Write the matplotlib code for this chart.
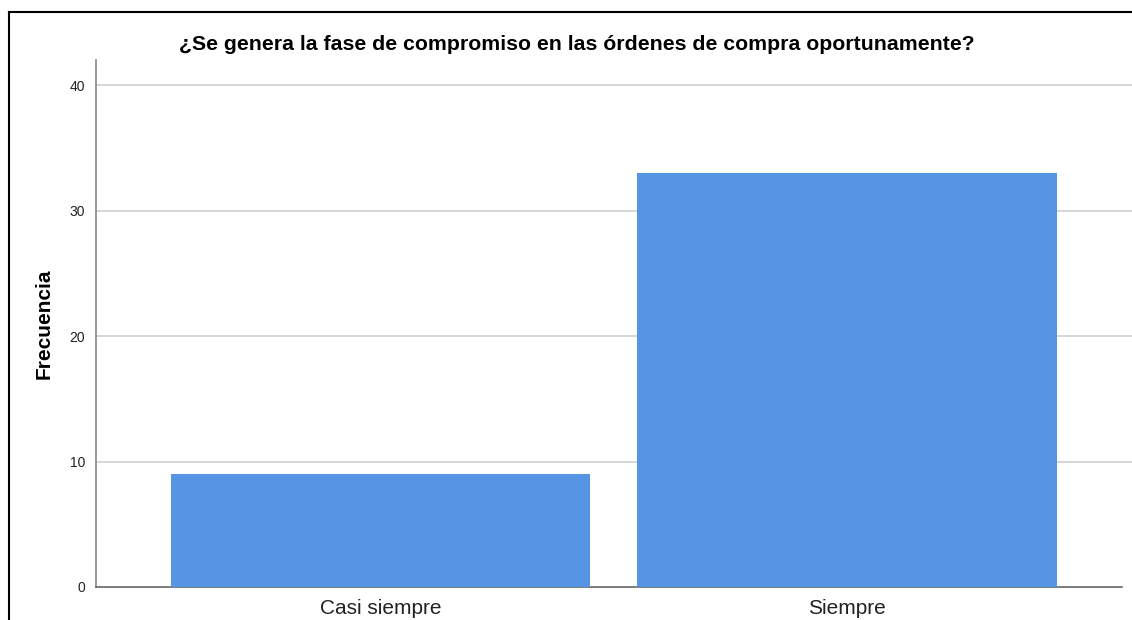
import matplotlib.pyplot as plt
from matplotlib.lines import Line2D

categorias = ['Casi siempre', 'Siempre']
frecuencias = [9, 33]
yticks = [0, 10, 20, 30, 40]

plt.rcParams['font.family'] = ['Liberation Sans', 'DejaVu Sans']

fig = plt.figure(figsize=(11.32, 6.2), dpi=100)
ax = fig.add_axes([96 / 1132, 33 / 620, 1026 / 1132, 527 / 620])

ax.bar(range(len(categorias)), frecuencias, width=0.9, color='#5595e3', zorder=3)
ax.set_xlim(-0.61, 1.59)
ax.set_ylim(0, 42)
ax.set_yticks(yticks)
ax.set_xticks(range(len(categorias)))
ax.set_xticklabels(categorias, fontsize=15, color='#222222')
ax.tick_params(axis='y', labelsize=10, length=0, pad=8, labelcolor='#222222')
ax.tick_params(axis='x', length=0, pad=9)

# lineas de cuadricula hasta el borde de la imagen
for t in yticks[1:]:
    ax.axhline(t, xmin=0, xmax=1132 / 1122 + 0.01, color='#d0d0d0', linewidth=1.2,
               zorder=0, clip_on=False)

for s in ['top', 'right']:
    ax.spines[s].set_visible(False)
ax.spines['left'].set_color('#888888')
ax.spines['bottom'].set_color('#666666')
ax.spines['left'].set_linewidth(1.2)
ax.spines['bottom'].set_linewidth(1.2)

ax.set_ylabel('Frecuencia', fontsize=15, fontweight='bold', labelpad=11)
fig.text(577 / 1132, 1 - 45 / 620, '¿Se genera la fase de compromiso en las órdenes de compra oportunamente?',
         ha='center', va='center', fontsize=15.3, fontweight='bold')

# marco exterior
fig.add_artist(Line2D([9 / 1132, 1], [1 - 12 / 620, 1 - 12 / 620], color='black', linewidth=1.5))
fig.add_artist(Line2D([9 / 1132, 9 / 1132], [0, 1 - 12 / 620], color='black', linewidth=1.5))

fig.savefig('out.png', dpi=100)
